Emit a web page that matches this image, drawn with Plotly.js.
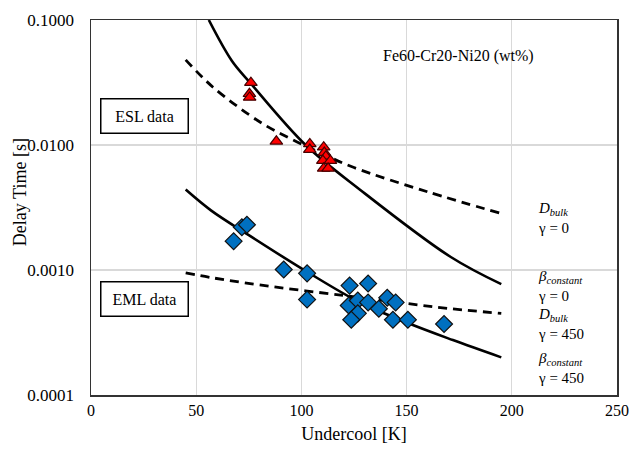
<!DOCTYPE html>
<html>
<head>
<meta charset="utf-8">
<script src="https://cdn.plot.ly/plotly-3.0.1.min.js"></script>
<style>html,body{margin:0;padding:0;background:#fff;}#chart{width:629px;height:451px;}</style>
</head>
<body>
<div id="chart"></div>
<script>
// ESL data (triangles)
const eslX = [76.0, 75.3, 75.4, 88.1, 104.0, 104.0, 110.6, 110.9, 111.6, 110.2, 113.8, 110.6, 112.7];
const eslY = [0.0315, 0.0257, 0.0240, 0.0107, 0.0102, 0.0092, 0.0096, 0.0087, 0.0081, 0.0075, 0.0075, 0.0065, 0.0065];
// EML data (diamonds)
const emlX = [67.8, 71.7, 74.1, 91.6, 102.7, 102.7, 122.9, 131.7, 122.5, 126.8, 131.7, 126.8, 123.7, 140.8, 144.8, 136.8, 143.5, 150.6, 167.8];
const emlY = [0.00170, 0.00220, 0.00230, 0.00101, 0.00094, 0.00058, 0.00075, 0.00078, 0.00052, 0.00057, 0.00055, 0.00045, 0.00040, 0.00060, 0.00055, 0.00049, 0.00040, 0.00040, 0.00037];
// Model curves
const dBulkG0X = [45, 58, 80.5, 95, 110, 125, 160, 195];
const dBulkG0Y = [0.048, 0.029, 0.0152, 0.0112, 0.0085, 0.0066, 0.00422, 0.00283];
const betaG0X = [56, 67, 76, 102, 128, 171, 195];
const betaG0Y = [0.1, 0.047, 0.031, 0.0100, 0.00437, 0.00127, 0.00077];
const dBulkG450X = [45, 57, 80, 120, 150, 171, 195];
const dBulkG450Y = [0.00095, 0.00087, 0.00076, 0.000625, 0.00054, 0.00049, 0.00045];
const betaG450X = [45, 57, 75, 103, 127, 150, 172, 195];
const betaG450Y = [0.0044, 0.0030, 0.0019, 0.00096, 0.00056, 0.00038, 0.000275, 0.0002];

const yTickVals = [0.0001, 0.001, 0.01, 0.1];
const yTickText = ['0.0001', '0.0010', '0.0100', '0.1000'];

const font = 'Liberation Serif';
const dashed = {color: '#000', width: 2.8, dash: '9px,6px', shape: 'spline'};
const solid = {color: '#000', width: 2.6, shape: 'spline'};

const traces = [
  {x: dBulkG0X, y: dBulkG0Y, mode: 'lines', line: dashed, hoverinfo: 'skip'},
  {x: betaG0X, y: betaG0Y, mode: 'lines', line: solid, hoverinfo: 'skip'},
  {x: dBulkG450X, y: dBulkG450Y, mode: 'lines', line: dashed, hoverinfo: 'skip'},
  {x: betaG450X, y: betaG450Y, mode: 'lines', line: solid, hoverinfo: 'skip'},
  {x: emlX, y: emlY, mode: 'markers', marker: {symbol: 'diamond', size: 13, color: '#0070C0', line: {color: '#111', width: 1.2}}},
  {x: eslX, y: eslY, mode: 'markers', marker: {symbol: 'triangle-up', size: 11, color: '#ff0000', line: {color: '#400', width: 1.2}}}
];

const ann = (x, y, text) => ({x, y: Math.log10(y), xref: 'x', yref: 'y', text, showarrow: false, xanchor: 'left', yanchor: 'middle', align: 'left', font: {family: font, size: 15, color: '#000'}});

const layout = {
  width: 629, height: 451,
  margin: {l: 91, r: 12, t: 20, b: 56},
  paper_bgcolor: '#fff', plot_bgcolor: '#fff',
  showlegend: false,
  font: {family: font, color: '#000'},
  xaxis: {
    range: [0, 250], dtick: 50, tick0: 0,
    showgrid: true, gridcolor: '#d9d9d9', gridwidth: 1.3,
    zeroline: false, showline: true, mirror: true, linecolor: '#333', linewidth: 1.5,
    ticks: '', ticklabeloverflow: 'allow', automargin: false,
    tickfont: {family: font, size: 16, color: '#000'},
    title: {text: 'Undercool [K]', font: {family: font, size: 18, color: '#000'}, standoff: 9}
  },
  yaxis: {
    type: 'log', range: [-4, -1],
    tickvals: yTickVals, ticktext: yTickText,
    showgrid: true, gridcolor: '#d9d9d9', gridwidth: 1.3,
    zeroline: false, showline: true, mirror: true, linecolor: '#333', linewidth: 1.5,
    ticks: '', ticklabelstandoff: 12, automargin: false,
    tickfont: {family: font, size: 17, color: '#000'}
  },
  annotations: [
    {x: 0, y: 0.541, xref: 'paper', yref: 'paper', xshift: -71, text: 'Delay Time [s]', textangle: -90, showarrow: false, xanchor: 'center', yanchor: 'middle', font: {family: font, size: 18, color: '#000'}},
    {x: 174.8, y: -1.284, xref: 'x', yref: 'y', text: 'Fe60-Cr20-Ni20 (wt%)', showarrow: false, xanchor: 'center', yanchor: 'middle', font: {family: font, size: 16, color: '#000'}},
    {x: 25.2, y: -1.764, xref: 'x', yref: 'y', text: 'ESL data', showarrow: false, width: 84, height: 31, bordercolor: '#000', borderwidth: 1.5, bgcolor: '#fff', font: {family: font, size: 16, color: '#000'}},
    {x: 25.2, y: -3.228, xref: 'x', yref: 'y', text: 'EML data', showarrow: false, width: 84, height: 31, bordercolor: '#000', borderwidth: 1.5, bgcolor: '#fff', font: {family: font, size: 16, color: '#000'}},
    ann(211.5, Math.pow(10, -2.58), '<i>D<sub>bulk</sub></i><br>γ = 0'),
    ann(211.5, Math.pow(10, -3.124), '<i>β<sub>constant</sub></i><br>γ = 0'),
    ann(211.5, Math.pow(10, -3.428), '<i>D<sub>bulk</sub></i><br>γ = 450'),
    ann(211.5, Math.pow(10, -3.78), '<i>β<sub>constant</sub></i><br>γ = 450')
  ]
};

Plotly.newPlot('chart', traces, layout, {staticPlot: true, displayModeBar: false});
</script>
</body>
</html>
